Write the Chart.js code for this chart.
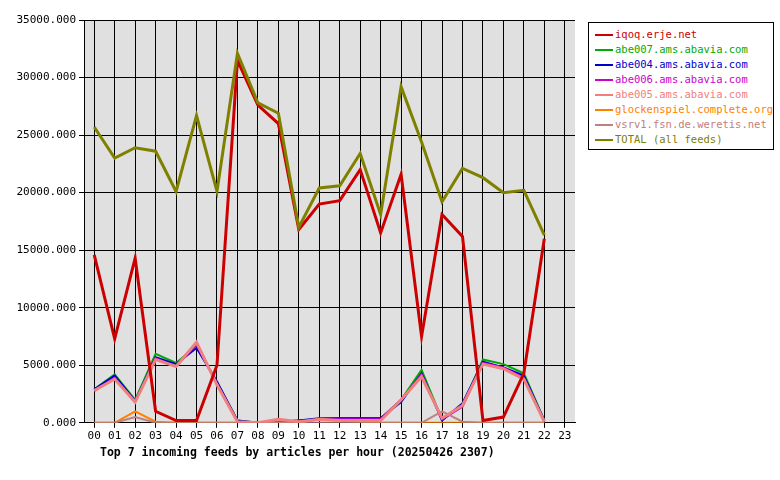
<!DOCTYPE html>
<html>
<head>
<meta charset="utf-8">
<script src="https://cdn.jsdelivr.net/npm/chart.js@4/dist/chart.umd.min.js"></script>
<style>
    body { margin: 0; background: #fff; font-family: 'DejaVu Sans Mono', monospace; }
    #wrap { position: relative; width: 780px; height: 480px; }
    #legend { position: absolute; left: 588px; top: 22px; width: 186px; height: 128px; border: 1px solid #000; background: #fff; font-size: 10.5px; box-sizing: border-box; padding: 4px 0 0 6px; }
    #legend div { height: 15px; line-height: 15px; white-space: nowrap; }
    #legend span.k { display: inline-block; width: 18px; height: 2px; vertical-align: middle; margin-right: 2px; }
    #title { position: absolute; left: 100px; top: 445px; font-size: 11.5px; font-weight: bold; }
</style>
</head>
<body>
<div id="wrap">
    <canvas id="c" width="780" height="480"></canvas>
    <div id="legend"></div>
    <div id="title">Top 7 incoming feeds by articles per hour (20250426 2307)</div>
</div>
<script>
    var hours = ['00','01','02','03','04','05','06','07','08','09','10','11','12','13','14','15','16','17','18','19','20','21','22','23'];
    var feedNames = ['iqoq.erje.net', 'abe007.ams.abavia.com', 'abe004.ams.abavia.com', 'abe006.ams.abavia.com', 'abe005.ams.abavia.com', 'glockenspiel.complete.org', 'vsrv1.fsn.de.weretis.net', 'TOTAL (all feeds)'];
    var feedColors = ['#cc0000', '#00aa00', '#0000cc', '#cc00cc', '#f08080', '#ff8000', '#c08080', '#808000'];
    var iqoq = [14600, 7300, 14300, 1000, 200, 200, 5000, 31500, 27600, 26000, 16800, 19000, 19300, 22000, 16500, 21600, 7500, 18100, 16200, 200, 500, 4300, 16000, null];
    var abe007 = [2900, 4200, 2000, 6000, 5200, 6700, 3500, 200, 0, 100, 200, 300, 400, 400, 400, 2000, 4600, 300, 1500, 5500, 5100, 4300, 200, null];
    var abe004 = [2900, 4100, 1900, 5700, 5100, 6500, 3600, 200, 0, 100, 200, 400, 400, 400, 400, 1800, 4300, 200, 1700, 5300, 4800, 4100, 200, null];
    var abe006 = [2800, 3900, 1800, 5600, 4900, 6800, 3400, 100, 0, 100, 100, 300, 300, 300, 300, 2000, 4200, 300, 1400, 5200, 4800, 3900, 100, null];
    var abe005 = [2800, 3800, 1800, 5500, 4900, 7000, 3300, 100, 0, 300, 100, 300, 200, 200, 200, 2000, 4000, 400, 1500, 5100, 4700, 3800, 100, null];
    var glockenspiel = [0, 0, 1000, 100, 0, 0, 0, 0, 0, 0, 0, 300, 200, 100, 0, 0, 0, 0, 0, 0, 0, 0, 0, null];
    var vsrv1 = [0, 0, 500, 0, 0, 0, 0, 0, 0, 0, 0, 0, 0, 0, 0, 0, 0, 1000, 100, 0, 0, 0, 0, null];
    var total = [25700, 23000, 23900, 23600, 20100, 26700, 20100, 32100, 27800, 26900, 17000, 20400, 20600, 23400, 18100, 29200, 24400, 19200, 22100, 21300, 20000, 20200, 16300, null];
    var series = [iqoq, abe007, abe004, abe006, abe005, glockenspiel, vsrv1, total];

    var legend = document.getElementById('legend');
    feedNames.forEach(function (name, i) {
        var row = document.createElement('div');
        row.style.color = feedColors[i];
        row.innerHTML = '<span class="k" style="background-color:' + feedColors[i] + '"></span>' + name;
        legend.appendChild(row);
    });

    var plotBg = {
        id: 'plotBg',
        beforeDraw: function (chart) {
            var a = chart.chartArea, ctx = chart.ctx;
            ctx.save();
            ctx.fillStyle = '#e0e0e0';
            ctx.fillRect(a.left, a.top, a.right - a.left, a.bottom - a.top);
            ctx.restore();
        }
    };

    // Chart.js paints the first dataset last, so list the top lines first
    var order = [7, 0, 4, 6, 5, 3, 2, 1];
    var datasets = order.map(function (i) {
        return {
            label: feedNames[i],
            data: series[i],
            borderColor: feedColors[i],
            borderWidth: (i === 0 || i === 7 || i === 4) ? 3 : 2,
            pointRadius: 0,
            tension: 0,
            fill: false
        };
    });

    Chart.defaults.font.family = "'DejaVu Sans Mono', monospace";
    Chart.defaults.font.size = 11;
    Chart.defaults.color = '#000';

    new Chart(document.getElementById('c'), {
        type: 'line',
        data: { labels: hours, datasets: datasets },
        plugins: [plotBg],
        options: {
            responsive: false,
            animation: false,
            layout: { padding: { left: 0, right: 205, top: 20, bottom: 35 } },
            plugins: { legend: { display: false }, tooltip: { enabled: false } },
            scales: {
                x: {
                    offset: true,
                    grid: { color: '#000', offset: false, tickLength: 5 },
                    border: { color: '#000' },
                    ticks: { maxRotation: 0, autoSkip: false, padding: 2 }
                },
                y: {
                    min: 0,
                    max: 35000,
                    grid: { color: '#000', tickLength: 5 },
                    border: { color: '#000' },
                    ticks: {
                        stepSize: 5000,
                        callback: function (v) { return v.toFixed(3); }
                    },
                    afterFit: function (s) { s.width = 84; }
                }
            }
        }
    });
</script>
</body>
</html>
